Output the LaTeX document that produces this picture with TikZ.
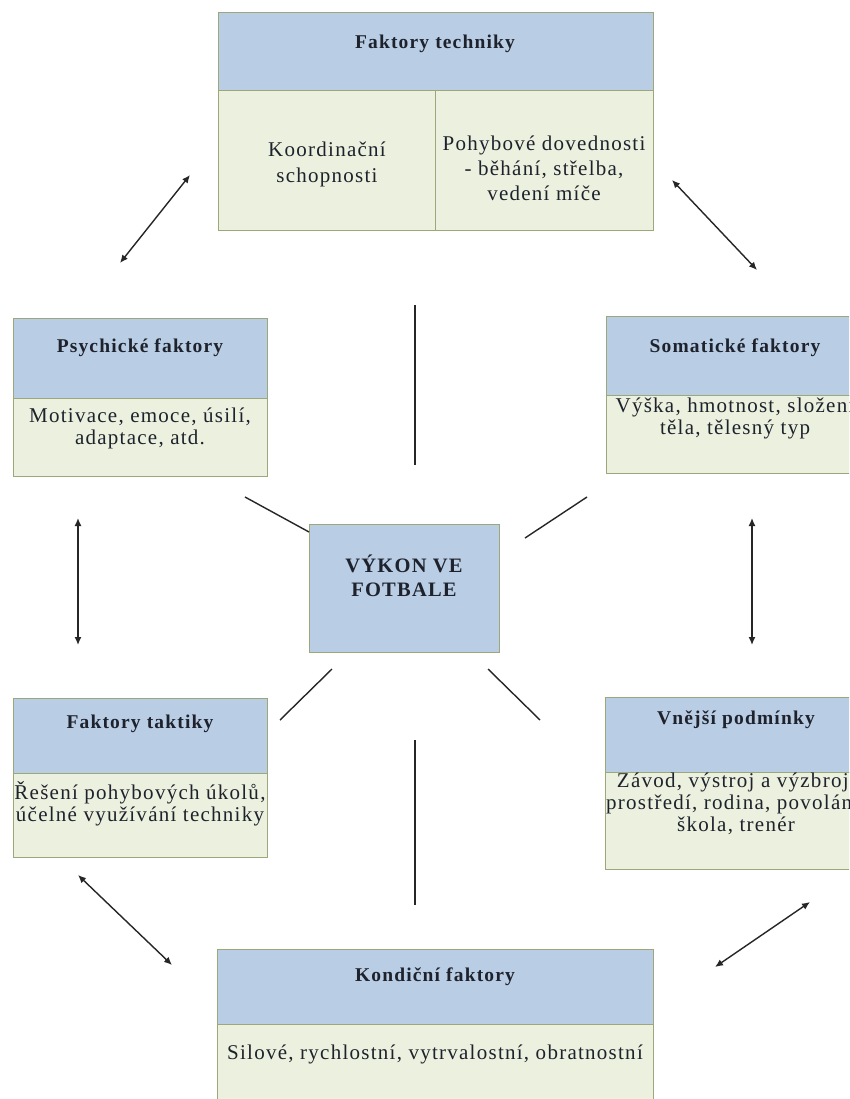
\documentclass[tikz,border=0pt]{standalone}
\usepackage{fontspec}
\setmainfont{Liberation Serif}[LetterSpace=6]
\usetikzlibrary{arrows.meta}
\definecolor{headblue}{HTML}{B9CDE5}
\definecolor{bodygreen}{HTML}{EBF1DE}
\definecolor{edgegreen}{HTML}{9CA87A}
\definecolor{ink}{HTML}{1E222C}

\begin{document}
\begin{tikzpicture}[x=1pt, y=-1pt,
  head/.style={draw=edgegreen, fill=headblue, line width=1.3pt, anchor=north west, inner sep=0pt},
  body/.style={draw=edgegreen, fill=bodygreen, line width=1.3pt, anchor=north west, inner sep=0pt},
  hdtext/.style={font=\fontsize{19.5}{22}\selectfont\bfseries, text=ink, align=center, inner sep=0pt},
  bdtext/.style={font=\fontsize{21}{22}\selectfont, text=ink, align=center, inner sep=0pt},
  link/.style={line width=1.4pt, draw=black!85},
  dlink/.style={link, {Latex[length=8pt,width=7pt]}-{Latex[length=8pt,width=7pt]}}]
\useasboundingbox (0,0) rectangle (849,1099);
\clip (0,0) rectangle (849,1099);
\fill[white] (0,0) rectangle (849,1099);

% Faktory techniky
\node[head, minimum width=435pt, minimum height=78pt] (techh) at (218,12) {};
\node[body, minimum width=217pt, minimum height=140pt] (techa) at (218,90) {};
\node[body, minimum width=218pt, minimum height=140pt] (techb) at (435,90) {};
\node[hdtext] (techt) at (435,44) {Faktory techniky};
\node[bdtext, font=\fontsize{21}{26}\selectfont] (koordt) at (327,164) {Koordinační\\schopnosti};
\node[bdtext, font=\fontsize{21}{25}\selectfont] (pohybt) at (544,168) {Pohybové dovednosti\\- běhání, střelba,\\vedení míče};

% Psychicke faktory
\node[head, minimum width=254pt, minimum height=80pt] (psychh) at (13,318) {};
\node[body, minimum width=254pt, minimum height=78pt] (psychb) at (13,398) {};
\node[hdtext] (psycht) at (140,348) {Psychické faktory};
\node[bdtext] (psychd) at (140,428) {Motivace, emoce, úsilí,\\adaptace, atd.};

% Somaticke faktory
\node[head, minimum width=258pt, minimum height=79pt] (somah) at (606,316) {};
\node[body, minimum width=258pt, minimum height=78pt] (somab) at (606,395) {};
\node[hdtext] (somat) at (735,348) {Somatické faktory};
\node[bdtext] (somad) at (735,418) {Výška, hmotnost, složení\\těla, tělesný typ};

% centre
\node[head, minimum width=190pt, minimum height=128pt] (vykon) at (309,524) {};
\node[hdtext, font=\fontsize{20.5}{24}\selectfont\bfseries] (vykont) at (404,576) {VÝKON VE\\FOTBALE};

% Faktory taktiky
\node[head, minimum width=254pt, minimum height=75pt] (takth) at (13,698) {};
\node[body, minimum width=254pt, minimum height=84pt] (taktb) at (13,773) {};
\node[hdtext] (taktt) at (140,724) {Faktory taktiky};
\node[bdtext] (taktd) at (140,804) {Řešení pohybových úkolů,\\účelné využívání techniky};

% Vnejsi podminky
\node[head, minimum width=260pt, minimum height=75pt] (vnejh) at (605,697) {};
\node[body, minimum width=260pt, minimum height=97pt] (vnejb) at (605,772) {};
\node[hdtext] (vnejt) at (736,720) {Vnější podmínky};
\node[bdtext] (vnejd) at (736,804) {Závod, výstroj a výzbroj,\\prostředí, rodina, povolání,\\škola, trenér};

% Kondicni faktory
\node[head, minimum width=436pt, minimum height=75pt] (kondh) at (217,949) {};
\node[body, minimum width=436pt, minimum height=90pt] (kondb) at (217,1024) {};
\node[hdtext] (kondt) at (435,977) {Kondiční faktory};
\node[bdtext] (kondd) at (435,1054) {Silové, rychlostní, vytrvalostní, obratnostní};

% spojnice
\coordinate (tl1) at (120,263); \coordinate (tl2) at (190,175);
\coordinate (tr1) at (672,180); \coordinate (tr2) at (757,270);
\coordinate (ml1) at (78,518);  \coordinate (ml2) at (78,645);
\coordinate (mr1) at (752,518); \coordinate (mr2) at (752,645);
\coordinate (bl1) at (78,875);  \coordinate (bl2) at (172,965);
\coordinate (br1) at (810,902); \coordinate (br2) at (715,967);
\draw[dlink] (tl1) -- (tl2);
\draw[dlink] (tr1) -- (tr2);
\draw[dlink] (ml1) -- (ml2);
\draw[dlink] (mr1) -- (mr2);
\draw[dlink] (bl1) -- (bl2);
\draw[dlink] (br1) -- (br2);

\coordinate (up1) at (415,305); \coordinate (up2) at (415,465);
\coordinate (dn1) at (415,740); \coordinate (dn2) at (415,905);
\coordinate (ul1) at (245,497); \coordinate (ul2) at (309,532);
\coordinate (ur1) at (525,538); \coordinate (ur2) at (587,497);
\coordinate (ll1) at (332,669); \coordinate (ll2) at (280,720);
\coordinate (lr1) at (488,669); \coordinate (lr2) at (540,720);
\draw[link] (up1) -- (up2);
\draw[link] (dn1) -- (dn2);
\draw[link] (ul1) -- (ul2);
\draw[link] (ur1) -- (ur2);
\draw[link] (ll1) -- (ll2);
\draw[link] (lr1) -- (lr2);
\end{tikzpicture}
\end{document}
